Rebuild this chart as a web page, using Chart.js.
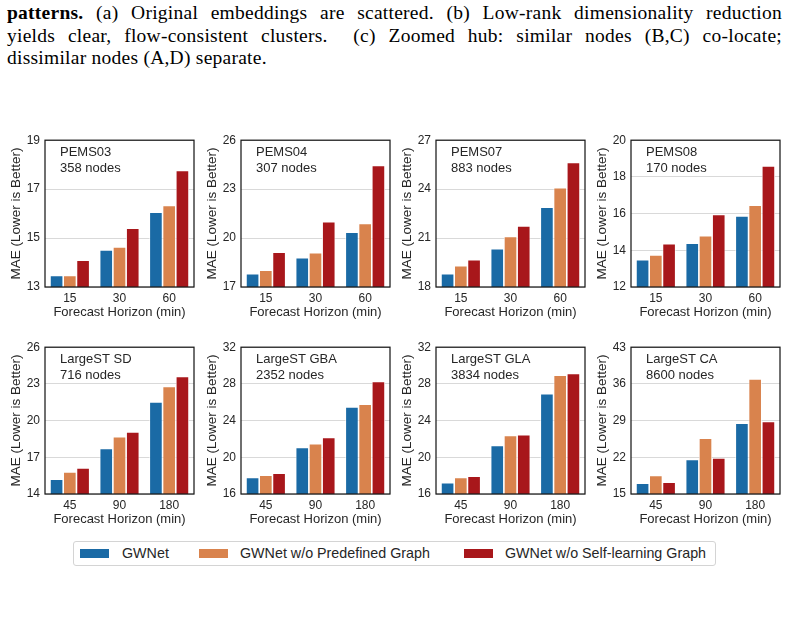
<!DOCTYPE html>
<html>
<head>
<meta charset="utf-8">
<script src="https://cdn.jsdelivr.net/npm/chart.js@4.4.1/dist/chart.umd.min.js"></script>
<style>
  html, body { margin: 0; padding: 0; background: #fff; }
  body { width: 791px; height: 626px; position: relative; overflow: hidden; }
  .cap { position: absolute; left: 7px; width: 775px; font-family: "Liberation Serif", "Times New Roman", serif; font-size: 19.5px; letter-spacing: 0.25px; color: #000; line-height: 22px; white-space: normal; }
  .just { text-align: justify; text-align-last: justify; }
  .panel { position: absolute; width: 200px; height: 192px; }
  .panel canvas { display: block; }
  #legend { position: absolute; left: 73px; top: 541px; width: 641px; height: 23px; border: 1px solid #d4d4d4; border-radius: 3px; font-family: "Liberation Sans", Arial, sans-serif; font-size: 14.3px; color: #262626; }
  .item { position: absolute; top: 0; height: 23px; line-height: 23px; white-space: nowrap; }
  .sw { position: absolute; top: 7px; width: 29px; height: 9px; }
</style>
</head>
<body>
<div class="cap just" style="top:2px;"><b>patterns.</b> (a) Original embeddings are scattered. (b) Low-rank dimensionality reduction</div>
<div class="cap just" style="top:25px;">yields clear, flow-consistent clusters. &nbsp;(c) Zoomed hub: similar nodes (B,C) co-locate;</div>
<div class="cap" style="top:47px;">dissimilar nodes (A,D) separate.</div>

<div id="panels"></div>
<div id="legend"></div>

<script>
// ---------------- data ----------------
const panelNames = ['PEMS03', 'PEMS04', 'PEMS07', 'PEMS08', 'LargeST SD', 'LargeST GBA', 'LargeST GLA', 'LargeST CA'];
const nodeLabels = ['358 nodes', '307 nodes', '883 nodes', '170 nodes', '716 nodes', '2352 nodes', '3834 nodes', '8600 nodes'];
const horizonsPEMS = ['15', '30', '60'];
const horizonsLargeST = ['45', '90', '180'];
const seriesNames = ['GWNet', 'GWNet w/o Predefined Graph', 'GWNet w/o Self-learning Graph'];

const maeGWNet = [
  [13.47, 14.51, 16.06],
  [17.81, 18.80, 20.36],
  [18.81, 20.35, 22.90],
  [13.49, 14.39, 15.87],
  [15.21, 17.72, 21.52],
  [17.80, 21.07, 25.50],
  [17.22, 21.29, 26.94],
  [17.08, 21.60, 28.52]
];
const maeNoPredefined = [
  [13.47, 14.64, 16.33],
  [18.03, 19.10, 20.89],
  [19.30, 21.10, 24.09],
  [13.74, 14.79, 16.46],
  [15.81, 18.69, 22.79],
  [18.05, 21.47, 25.78],
  [17.80, 22.37, 28.95],
  [18.52, 25.63, 36.95]
];
const maeNoSelfLearning = [
  [14.10, 15.40, 17.76],
  [19.13, 21.01, 24.45],
  [19.68, 21.74, 25.63],
  [14.36, 15.96, 18.60],
  [16.13, 19.07, 23.60],
  [18.27, 22.15, 28.27],
  [17.94, 22.47, 29.13],
  [17.26, 21.86, 28.84]
];
const yMin = [13, 17, 18, 12, 14, 16, 16, 15];
const yMax = [19, 26, 27, 20, 26, 32, 32, 43];
const yStep = [2, 3, 3, 2, 3, 4, 4, 7];

// ---------------- styling ----------------
const colors = ['#1a6aa5', '#d9834d', '#a8171b'];
const FONT = '"Liberation Sans", Arial, sans-serif';
const TEXT = '#262626';
const frameLefts = [45, 241, 436, 631];
const frameTops = [138, 345];
const CW = 200, CH = 192;

const framePlugin = {
  id: 'frame',
  afterDatasetsDraw(chart, args, opts) {
    const a = chart.chartArea;
    const ctx = chart.ctx;
    ctx.save();
    ctx.strokeStyle = '#1a1a1a';
    ctx.lineWidth = 1.25;
    ctx.strokeRect(a.left, a.top, a.right - a.left, a.bottom - a.top);
    ctx.fillStyle = TEXT;
    ctx.font = '13px ' + FONT;
    ctx.textBaseline = 'middle';
    ctx.textAlign = 'left';
    ctx.fillText(opts.title, a.left + 15, a.top + 12.5);
    ctx.fillText(opts.nodes, a.left + 15, a.top + 28);
    ctx.restore();
  }
};

const panelsDiv = document.getElementById('panels');
for (let i = 0; i < 8; i++) {
  const col = i % 4, row = Math.floor(i / 4);
  const div = document.createElement('div');
  div.className = 'panel';
  div.style.left = (frameLefts[col] - 45) + 'px';
  div.style.top = (frameTops[row] - 10) + 'px';
  const cv = document.createElement('canvas');
  cv.width = CW;
  cv.height = CH;
  cv.style.width = CW + 'px';
  cv.style.height = CH + 'px';
  div.appendChild(cv);
  panelsDiv.appendChild(div);

  const labels = row === 0 ? horizonsPEMS : horizonsLargeST;
  const series = [maeGWNet[i], maeNoPredefined[i], maeNoSelfLearning[i]];
  new Chart(cv, {
    type: 'bar',
    data: {
      labels: labels,
      datasets: series.map((d, k) => ({
        label: seriesNames[k],
        data: d,
        backgroundColor: colors[k],
        borderColor: '#ffffff',
        borderWidth: 0.8,
        categoryPercentage: 0.8,
        barPercentage: 1.0
      }))
    },
    options: {
      responsive: false,
      maintainAspectRatio: false,
      animation: false,
      devicePixelRatio: 1,
      layout: { padding: { top: 10, right: 6, left: 0, bottom: 0 } },
      plugins: {
        legend: { display: false },
        tooltip: { enabled: false },
        frame: { title: panelNames[i], nodes: nodeLabels[i] }
      },
      scales: {
        x: {
          grid: { display: false, drawTicks: false },
          border: { display: false },
          ticks: { color: TEXT, font: { family: FONT, size: 12 }, padding: 4, maxRotation: 0 },
          title: { display: true, text: 'Forecast Horizon (min)', color: TEXT, font: { family: FONT, size: 13 }, padding: { top: 0, bottom: 0 } },
          afterFit(scale) { scale.height = 33; }
        },
        y: {
          min: yMin[i],
          max: yMax[i],
          grid: { color: '#d9d9d9', lineWidth: 1, drawTicks: false },
          border: { display: false },
          ticks: { stepSize: yStep[i], color: TEXT, font: { family: FONT, size: 12 }, padding: 5 },
          title: { display: true, text: 'MAE (Lower is Better)', color: TEXT, font: { family: FONT, size: 13.5 }, padding: { top: 8, bottom: 0 } },
          afterFit(scale) { scale.width = 45; }
        }
      }
    },
    plugins: [framePlugin]
  });
}

// legend (HTML)
const legend = document.getElementById('legend');
const swLeft = [6, 125, 390];
const txtLeft = [48, 166, 431];
seriesNames.forEach((name, k) => {
  const sw = document.createElement('div');
  sw.className = 'sw';
  sw.style.left = swLeft[k] + 'px';
  sw.style.background = colors[k];
  legend.appendChild(sw);
  const t = document.createElement('div');
  t.className = 'item';
  t.style.left = txtLeft[k] + 'px';
  t.textContent = name;
  legend.appendChild(t);
});
</script>
</body>
</html>
